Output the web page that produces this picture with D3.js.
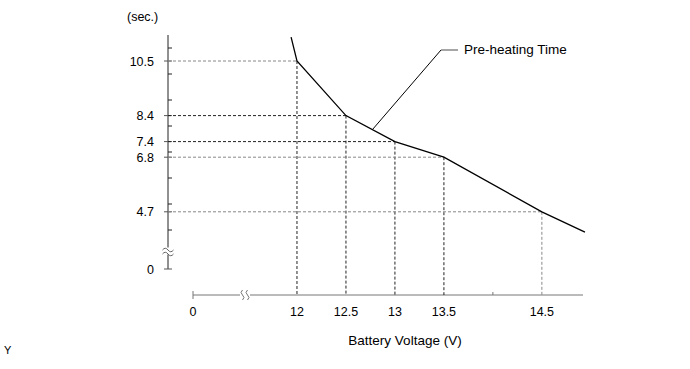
<!DOCTYPE html>
<html>
<head>
<meta charset="utf-8">
<script src="https://cdn.jsdelivr.net/npm/d3@7"></script>
<style>
  body { margin: 0; background: #fff; }
  text { font-family: Arial, "Liberation Sans", sans-serif; fill: #000; }
</style>
</head>
<body>
<svg id="chart" width="690" height="369"></svg>
<script>
// pre-heating time curve (battery voltage V -> seconds)
var voltage = [11.94, 12, 12.5, 13, 13.5, 14.5, 14.94];
var seconds = [11.42, 10.5, 8.4, 7.4, 6.8, 4.7, 3.78];
// points that get dashed guide lines
var markedVolts = [12, 12.5, 13, 13.5, 14.5];
var markedSecs = [10.5, 8.4, 7.4, 6.8, 4.7];
var yTickLabels = ['10.5', '8.4', '7.4', '6.8', '4.7', '0'];
var yTickValues = [10.5, 8.4, 7.4, 6.8, 4.7, 0];
var yMinorTicks = [4, 5, 6, 7, 8, 9, 10, 11];
var xTickLabels = ['0', '12', '12.5', '13', '13.5', '14.5'];
var xTickValues = [0, 12, 12.5, 13, 13.5, 14.5];
var xMinorTicks = [14];

var svg = d3.select('#chart');

// broken axes: piecewise scales, the gap sits between 0 and the first real value
var x = d3.scaleLinear().domain([0, 11.5, 14.92]).range([193, 248, 583]);
var y = d3.scaleLinear().domain([0, 4, 11.5]).range([269, 230, 35]);
var x0 = 168, yAxisY = 295;

// y axis
svg.append('line').attr('x1', x0).attr('x2', x0).attr('y1', y(11.5)).attr('y2', y(0))
  .attr('stroke', '#222').attr('stroke-width', 1);
svg.selectAll('.yminor').data(yMinorTicks).enter().append('line')
  .attr('x1', x0).attr('x2', x0 + 4).attr('y1', function(d) { return y(d); }).attr('y2', function(d) { return y(d); })
  .attr('stroke', '#222');
svg.selectAll('.ymajor').data(yTickValues).enter().append('line')
  .attr('x1', x0 - 4).attr('x2', x0 + 4).attr('y1', function(d) { return y(d); }).attr('y2', function(d) { return y(d); })
  .attr('stroke', '#555');
svg.selectAll('.ylab').data(yTickValues).enter().append('text')
  .attr('x', 154).attr('y', function(d) { return y(d) + 4.5; })
  .attr('text-anchor', 'end').style('font-size', '12.5px')
  .text(function(d, i) { return yTickLabels[i]; });
svg.append('text').attr('x', 127).attr('y', 21).style('font-size', '12.5px').text('(sec.)');

// y axis break mark
var brk = 251.5;
svg.append('rect').attr('x', x0 - 6).attr('y', brk - 4).attr('width', 12).attr('height', 7).attr('fill', '#fff');
[-2, 2].forEach(function(o) {
  svg.append('path')
    .attr('d', 'M' + (x0 - 5.5) + ',' + (brk + o + 0.5) + ' q2.75,-3.5 5.5,0 t5.5,0')
    .attr('fill', 'none').attr('stroke', '#555').attr('stroke-width', 0.9);
});

// x axis
svg.append('line').attr('x1', x(0)).attr('x2', x(14.92)).attr('y1', yAxisY).attr('y2', yAxisY)
  .attr('stroke', '#777').attr('stroke-width', 1);
svg.append('line').attr('x1', x(0)).attr('x2', x(0)).attr('y1', yAxisY - 4).attr('y2', yAxisY + 4)
  .attr('stroke', '#777');
svg.selectAll('.xminor').data(xMinorTicks).enter().append('line')
  .attr('x1', function(d) { return x(d); }).attr('x2', function(d) { return x(d); })
  .attr('y1', yAxisY - 3).attr('y2', yAxisY).attr('stroke', '#777');
svg.selectAll('.xlab').data(xTickValues).enter().append('text')
  .attr('x', function(d) { return x(d); }).attr('y', 316)
  .attr('text-anchor', 'middle').style('font-size', '12.5px')
  .text(function(d, i) { return xTickLabels[i]; });
svg.append('text').attr('x', 405).attr('y', 345).attr('text-anchor', 'middle')
  .style('font-size', '13.5px').text('Battery Voltage (V)');

// x axis break mark
var bx = 245;
svg.append('rect').attr('x', bx - 5).attr('y', yAxisY - 5).attr('width', 10).attr('height', 10).attr('fill', '#fff');
[-2.5, 2.5].forEach(function(o) {
  svg.append('path')
    .attr('d', 'M' + (bx + o) + ',' + (yAxisY - 5) + ' q-3,2.5 0,5 t0,5')
    .attr('fill', 'none').attr('stroke', '#666').attr('stroke-width', 0.9);
});

// dashed guide lines
var guideCol = ['#888', '#222', '#222', '#888', '#888'];
markedVolts.forEach(function(v, i) {
  var s = markedSecs[i];
  svg.append('line').attr('x1', x0).attr('x2', x(v)).attr('y1', y(s)).attr('y2', y(s))
    .attr('stroke', guideCol[i]).attr('stroke-dasharray', '3,2');
  svg.append('line').attr('x1', x(v)).attr('x2', x(v)).attr('y1', y(s)).attr('y2', yAxisY)
    .attr('stroke', i == 4 ? '#888' : '#222').attr('stroke-dasharray', '3,2');
});

// curve
var line = d3.line().x(function(d) { return x(d[0]); }).y(function(d) { return y(d[1]); });
svg.append('path').datum(d3.zip(voltage, seconds))
  .attr('d', line).attr('fill', 'none').attr('stroke', '#000').attr('stroke-width', 1.3);

// leader for the label
var lv = 12.77, ls = 8.4 + (12.77 - 12.5) * (7.4 - 8.4) / 0.5;
svg.append('line').attr('x1', x(lv)).attr('y1', y(ls)).attr('x2', 441).attr('y2', 50)
  .attr('stroke', '#000').attr('stroke-width', 1);
svg.append('line').attr('x1', 441).attr('y1', 50).attr('x2', 458).attr('y2', 50)
  .attr('stroke', '#888').attr('stroke-width', 1.5);
svg.append('text').attr('x', 464).attr('y', 54).style('font-size', '13.5px').text('Pre-heating Time');

svg.append('text').attr('x', 4).attr('y', 354).style('font-size', '11px').text('Y');
</script>
</body>
</html>
